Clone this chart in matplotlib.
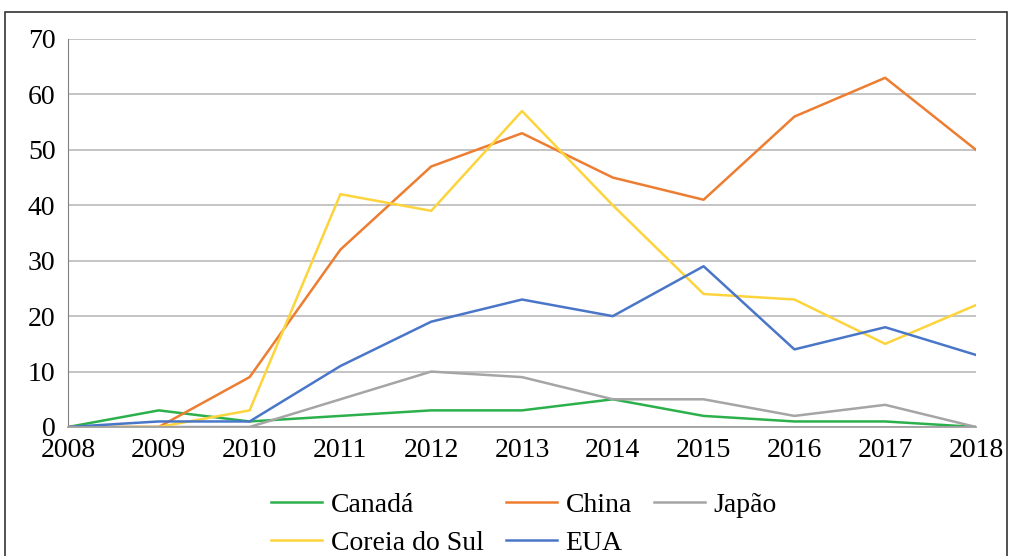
import numpy as np
import matplotlib
matplotlib.use("Agg")
import matplotlib.pyplot as plt
from matplotlib.patches import Rectangle

years = [2008, 2009, 2010, 2011, 2012, 2013, 2014, 2015, 2016, 2017, 2018]
canada = [0, 3, 1, 2, 3, 3, 5, 2, 1, 1, 0]
china = [0, 0, 9, 32, 47, 53, 45, 41, 56, 63, 50]
japao = [0, 0, 0, 5, 10, 9, 5, 5, 2, 4, 0]
coreia = [0, 0, 3, 42, 39, 57, 40, 24, 23, 15, 22]
eua = [0, 1, 1, 11, 19, 23, 20, 29, 14, 18, 13]

series = [
    ("Canadá", canada, "#2cb04c"),
    ("China", china, "#ed7d31"),
    ("Japão", japao, "#a5a5a5"),
    ("Coreia do Sul", coreia, "#fdd43c"),
    ("EUA", eua, "#4a76c8"),
]

plt.rcParams['font.family'] = ['Liberation Serif', 'DejaVu Serif']
fontsize = 20

fig = plt.figure(figsize=(10.1, 5.56), dpi=100)
# frame around the whole picture
fig.patches.append(Rectangle((5 / 1010, -0.01), 1002 / 1010, 1 - 12 / 556 + 0.01,
                             transform=fig.transFigure, fill=False,
                             edgecolor="#333333", linewidth=1.2))

ax = fig.add_axes([68 / 1010, 1 - 427 / 556, (976 - 68) / 1010, (427 - 39) / 556])

lines = {}
for name, vals, col in series:
    lines[name], = ax.plot(years, vals, color=col, linewidth=1.8, label=name)

ax.set_xlim(2008, 2018)
ax.set_ylim(0, 70)
ax.set_xticks(years)
ax.set_yticks(np.arange(0, 71, 10))
ax.tick_params(axis='both', labelsize=fontsize, length=0)
ax.tick_params(axis='y', pad=9)
ax.tick_params(axis='x', pad=8)
ax.grid(axis='y', color="#bfbfbf", linewidth=1.3)
ax.set_axisbelow(True)
for s in ['top', 'right']:
    ax.spines[s].set_visible(False)
ax.spines['left'].set_color("#808080")
ax.spines['bottom'].set_color("#a0a0a0")
ax.spines['bottom'].set_linewidth(1.3)

order = ["Canadá", "Coreia do Sul", "China", "EUA", "Japão"]
fig.legend([lines[n] for n in order], order, ncol=3, loc='center',
           bbox_to_anchor=(524 / 1010, 1 - 524 / 556), frameon=False,
           fontsize=fontsize, handlelength=1.85, handletextpad=0.3,
           columnspacing=0.8, labelspacing=0.45)

fig.savefig("out.png", dpi=100)
